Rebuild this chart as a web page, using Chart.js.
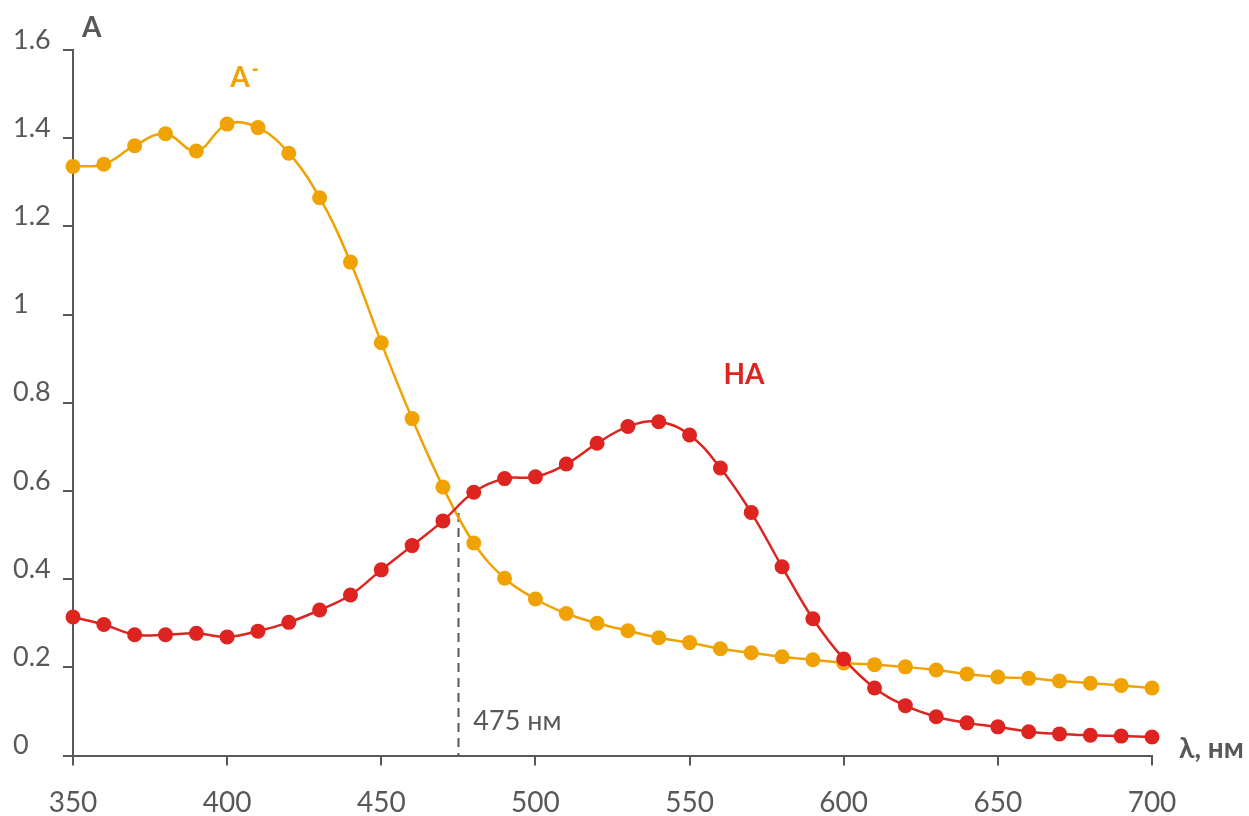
<!DOCTYPE html>
<html>
<head>
<meta charset="utf-8">
<script src="https://cdn.jsdelivr.net/npm/chart.js@4.4.1/dist/chart.umd.min.js"></script>
<style>
  html, body { margin: 0; padding: 0; background: #ffffff; }
  #wrap { width: 1249px; height: 816px; }
</style>
</head>
<body>
<div id="wrap"><canvas id="c" width="1249" height="816"></canvas></div>
<script>
// Wavelength grid, nm
const wavelengths = [350, 360, 370, 380, 390, 400, 410, 420, 430, 440, 450, 460, 470, 480, 490, 500,
  510, 520, 530, 540, 550, 560, 570, 580, 590, 600, 610, 620, 630, 640, 650, 660, 670, 680, 690, 700];

// Absorbance of the basic form A-
const absA = [1.336, 1.341, 1.383, 1.410, 1.371, 1.432, 1.424, 1.366, 1.265, 1.119, 0.936, 0.764,
  0.609, 0.482, 0.402, 0.355, 0.322, 0.300, 0.283, 0.267, 0.256, 0.242, 0.233, 0.224, 0.217, 0.210,
  0.206, 0.201, 0.194, 0.185, 0.178, 0.175, 0.169, 0.164, 0.159, 0.153];

// Absorbance of the acid form HA
const absHA = [0.314, 0.297, 0.274, 0.274, 0.277, 0.269, 0.282, 0.302, 0.330, 0.364, 0.421, 0.476,
  0.532, 0.597, 0.628, 0.632, 0.661, 0.708, 0.746, 0.757, 0.727, 0.652, 0.551, 0.428, 0.310, 0.219,
  0.153, 0.113, 0.088, 0.074, 0.065, 0.054, 0.049, 0.046, 0.044, 0.042];

// Axis ticks
const xTicks = [350, 400, 450, 500, 550, 600, 650, 700];
const yTicks = [0, 0.2, 0.4, 0.6, 0.8, 1, 1.2, 1.4, 1.6];
const yTickLabels = ['0', '0.2', '0.4', '0.6', '0.8', '1', '1.2', '1.4', '1.6'];

// Isosbestic point
const isoWavelength = 475;
const isoAbs = 0.55;

const ORANGE = '#F0A202';
const RED = '#DE2420';
const GRAY = '#585858';
const FONT = "Lato, 'Open Sans', 'DejaVu Sans', sans-serif";

const toPoints = (ys) => wavelengths.map((x, i) => ({ x: x, y: ys[i] }));

// Dashed drop line and text labels
const overlay = {
  id: 'overlay',
  beforeDatasetsDraw(chart) {
    const { ctx, scales: { x, y } } = chart;
    const px = Math.round(x.getPixelForValue(isoWavelength)) + 0.5;
    ctx.save();
    ctx.strokeStyle = GRAY;
    ctx.lineWidth = 2;
    ctx.setLineDash([9, 6]);
    ctx.beginPath();
    ctx.moveTo(px, y.getPixelForValue(isoAbs));
    ctx.lineTo(px, y.getPixelForValue(0));
    ctx.stroke();
    ctx.restore();
  },
  afterDraw(chart) {
    const { ctx, scales: { x, y } } = chart;
    ctx.save();
    ctx.textBaseline = 'alphabetic';
    ctx.textAlign = 'left';

    // axis titles
    ctx.fillStyle = GRAY;
    ctx.font = "bold 28px " + FONT;
    ctx.fillText('A', x.left + 9, y.top - 13);
    ctx.fillText('λ, нм', x.right + 27, y.bottom + 2);

    // isosbestic wavelength
    ctx.font = "27px " + FONT;
    ctx.fillText(isoWavelength + ' нм', x.getPixelForValue(isoWavelength) + 15, y.getPixelForValue(0) - 26);

    // series labels
    ctx.fillStyle = ORANGE;
    ctx.font = "bold 28px " + FONT;
    const ax = x.getPixelForValue(401);
    const ay = y.getPixelForValue(1.515);
    ctx.fillText('A', ax, ay);
    const aw = ctx.measureText('A').width;
    ctx.fillRect(ax + aw + 3, ay - 19, 5, 2.5);

    ctx.fillStyle = RED;
    ctx.fillText('HA', x.getPixelForValue(561), y.getPixelForValue(0.843));
    ctx.restore();
  }
};

new Chart(document.getElementById('c'), {
  type: 'line',
  data: {
    datasets: [
      {
        label: 'HA',
        data: toPoints(absHA),
        borderColor: RED,
        backgroundColor: RED,
        borderWidth: 2.5,
        pointRadius: 7.5,
        pointHoverRadius: 7.5,
        pointBorderWidth: 0,
        tension: 0.4,
        clip: false
      },
      {
        label: 'A-',
        data: toPoints(absA),
        borderColor: ORANGE,
        backgroundColor: ORANGE,
        borderWidth: 2.5,
        pointRadius: 7.5,
        pointHoverRadius: 7.5,
        pointBorderWidth: 0,
        tension: 0.4,
        clip: false
      }
    ]
  },
  options: {
    responsive: false,
    animation: false,
    devicePixelRatio: 1,
    layout: { padding: { left: 13, right: 97, top: 50, bottom: 0 } },
    plugins: { legend: { display: false }, tooltip: { enabled: false } },
    scales: {
      x: {
        type: 'linear',
        min: 350,
        max: 700,
        afterBuildTicks: (s) => { s.ticks = xTicks.map(v => ({ value: v })); },
        afterFit: (s) => { s.height = 60.5; },
        border: { display: true, color: GRAY, width: 2 },
        grid: { display: true, drawOnChartArea: false, drawTicks: true, tickLength: 10, color: GRAY, lineWidth: 2 },
        ticks: { color: GRAY, font: { family: FONT, size: 28 }, padding: 21, maxRotation: 0, autoSkip: false }
      },
      y: {
        min: 0,
        max: 1.6,
        afterBuildTicks: (s) => { s.ticks = yTicks.map(v => ({ value: v })); },
        afterFit: (s) => { s.width = 60; },
        border: { display: true, color: GRAY, width: 2 },
        grid: { display: true, drawOnChartArea: false, drawTicks: true, tickLength: 10, color: GRAY, lineWidth: 2 },
        ticks: {
          color: GRAY,
          font: { family: FONT, size: 27 },
          crossAlign: 'far',
          labelOffset: -10,
          autoSkip: false,
          callback: (v, i) => yTickLabels[i]
        }
      }
    }
  },
  plugins: [overlay]
});
</script>
</body>
</html>
